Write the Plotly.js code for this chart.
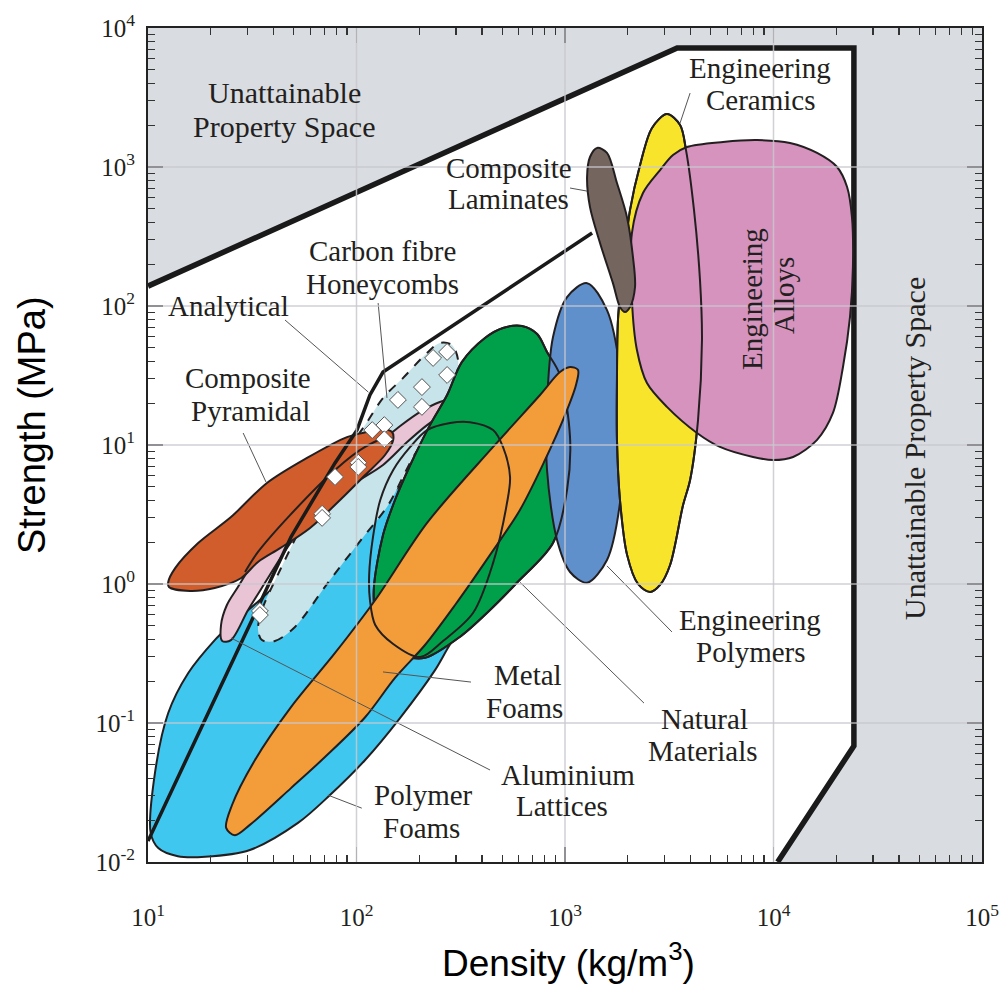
<!DOCTYPE html>
<html><head><meta charset="utf-8">
<script src="https://cdn.plot.ly/plotly-3.0.1.min.js"></script>
<style>html,body{margin:0;padding:0;background:#fff}#chart{width:1007px;height:988px}</style>
</head><body><div id="chart"></div>
<script>
// ---- axis ticks ----
const densityTicks = [10, 100, 1000, 10000, 100000];
const densityTickText = ['10<sup>1</sup>', '10<sup>2</sup>', '10<sup>3</sup>', '10<sup>4</sup>', '10<sup>5</sup>'];
const strengthTicks = [0.01, 0.1, 1, 10, 100, 1000, 10000];
const strengthTickText = ['10<sup>-2</sup>', '10<sup>-1</sup>', '10<sup>0</sup>', '10<sup>1</sup>', '10<sup>2</sup>', '10<sup>3</sup>', '10<sup>4</sup>'];

// ---- unattainable region boundary (density kg/m3, strength MPa) ----
const limitDensity = [10, 3450, 24300, 24300, 10470];
const limitStrength = [139, 7180, 7180, 0.0684, 0.01];
const greyDensity = [10, 3450, 24300, 24300, 10470, 100000, 100000, 10, 10];
const greyStrength = [139, 7180, 7180, 0.0684, 0.01, 0.01, 10000, 10000, 139];

// ---- analytical bound line ----
const analyticalDensity = [10, 48.5, 78.9, 100.5, 116, 134, 1349];
const analyticalStrength = [0.01416, 2.18, 7.43, 12.8, 22.9, 33.5, 335];

// ---- material envelopes ----
const polymerFoamDensity = [10.3, 11.2, 13.9, 18.8, 30.8, 52.4, 74.6, 110, 162, 238, 284, 370, 437, 447, 383, 281, 202, 130, 66.8, 34.4, 23.4, 20.9, 15.6, 12.5, 10.8, 10.3];
const polymerFoamStrength = [0.0162, 0.0126, 0.0110, 0.0109, 0.0122, 0.0191, 0.0303, 0.0542, 0.109, 0.240, 0.376, 0.629, 1.07, 2.45, 4.75, 6.61, 6.08, 4.02, 1.91, 0.767, 0.467, 0.395, 0.229, 0.118, 0.0437, 0.0162];

const latticeDensity = [22.7, 22.4, 23.9, 27.0, 32.6, 42.0, 59.9, 93.1, 130, 162, 202, 251, 339, 335, 272, 218, 175, 134, 100, 67.6, 50.7, 43.5, 36.4, 30.2, 25.0, 22.7];
const latticeStrength = [0.389, 0.507, 0.706, 0.951, 1.49, 2.37, 4.02, 7.18, 10.5, 13.7, 17.3, 20.4, 22.9, 20.7, 17.3, 13.9, 10.5, 7.18, 5.40, 3.41, 2.18, 1.56, 1.02, 0.650, 0.395, 0.389];

const pyramidalDensity = [12.6, 15.9, 20.9, 27.9, 33.7, 43.0, 59.9, 83.4, 110, 137, 150, 148, 134, 112, 90.0, 57.9, 37.2, 25.0, 17.4, 13.5, 12.5, 12.6];
const pyramidalStrength = [0.951, 0.891, 0.936, 1.10, 1.44, 1.81, 2.53, 4.02, 6.08, 8.47, 10.9, 12.4, 13.0, 12.4, 11.4, 8.07, 5.33, 3.03, 1.97, 1.30, 1.03, 0.951];
const pyramidalInnerDensity = [29.2, 33.7, 48.0, 78.9, 110, 145, 148];
const pyramidalInnerStrength = [1.22, 1.70, 3.13, 6.61, 9.68, 11.4, 10.5];

const honeycombDensity = [35.2, 40.6, 50.7, 72.9, 105, 142, 167, 187, 213, 251, 281, 300, 307, 287, 251, 213, 167, 134, 110, 83.4, 59.9, 43.0, 35.2, 33.7, 35.2];
const honeycombStrength = [0.395, 0.389, 0.491, 1.02, 2.07, 3.70, 5.89, 8.20, 10.9, 15.1, 21.1, 29.4, 40.9, 52.4, 54.2, 44.4, 30.3, 21.8, 13.9, 7.80, 3.41, 1.26, 0.650, 0.467, 0.395];

const naturalDensity = [121, 125, 142, 171, 213, 313, 437, 588, 876, 1023, 1057, 946, 820, 735, 622, 504, 413, 320, 272, 225, 181, 153, 134, 121];
const naturalStrength = [0.906, 0.533, 0.364, 0.303, 0.294, 0.416, 0.650, 1.02, 1.97, 4.75, 11.4, 31.9, 46.7, 62.9, 71.8, 69.5, 58.9, 39.5, 22.9, 13.9, 7.18, 4.02, 2.25, 0.906];

const naturalInnerDensity = [116, 123, 150, 202, 260, 362, 452, 527, 545, 504, 452, 350, 281, 218, 181, 150, 130, 120, 115, 116];
const naturalInnerStrength = [0.767, 0.507, 0.370, 0.298, 0.389, 0.618, 1.42, 3.83, 5.89, 9.68, 12.8, 14.6, 14.4, 12.8, 9.68, 6.61, 4.02, 2.18, 1.16, 0.767];

const metalFoamDensity = [23.7, 26.1, 30.8, 48.5, 70.6, 110, 153, 213, 297, 437, 608, 802, 1000, 1129, 1154, 1057, 946, 759, 452, 218, 123, 78.9, 48.5, 32.6, 25.3, 23.7];
const metalFoamStrength = [0.0176, 0.0156, 0.0185, 0.0340, 0.0569, 0.110, 0.211, 0.364, 0.706, 1.62, 3.41, 7.80, 16.4, 27.0, 34.7, 36.4, 33.5, 22.9, 9.68, 2.75, 0.767, 0.319, 0.130, 0.0542, 0.0257, 0.0176];

const polymerDensity = [1276, 1590, 1835, 1897, 1835, 1590, 1276, 1057, 916, 820, 820, 876, 1023, 1276];
const polymerStrength = [146, 93.5, 34.7, 11.4, 3.83, 1.49, 1.02, 1.22, 2.07, 6.61, 20.0, 59.8, 116, 146];

const ceramicDensity = [3083, 3565, 3805, 4156, 4440, 4539, 4345, 3981, 3684, 3192, 2858, 2559, 2240, 1985, 1835, 1775, 1775, 1795, 1897, 2051, 2291, 2614, 3083];
const ceramicStrength = [2404, 2005, 1324, 491, 154, 56.9, 15.1, 5.60, 3.70, 1.37, 0.984, 0.875, 1.00, 1.62, 4.02, 10.9, 29.4, 79.3, 191, 491, 1033, 1910, 2404];

const alloyDensity = [3846, 5728, 8340, 12000, 16180, 20180, 22540, 23780, 24040, 23280, 21540, 19280, 16180, 12420, 9954, 7980, 5535, 4295, 3083, 2472, 2213, 2094, 2094, 2366, 2858, 3296, 3846];
const alloyStrength = [1393, 1514, 1563, 1489, 1262, 1000, 718, 437, 191, 83.4, 36.4, 17.0, 10.9, 8.20, 7.80, 8.20, 9.68, 12.2, 18.8, 27.9, 48.2, 110, 335, 650, 951, 1219, 1393];

const laminateDensity = [1426, 1590, 1775, 1982, 2118, 2167, 2051, 1941, 1835, 1698, 1472, 1318, 1276, 1318, 1426];
const laminateStrength = [1371, 1262, 767, 437, 225, 137, 98.4, 90.6, 98.4, 146, 284, 515, 847, 1180, 1371];

// ---- honeycomb test points ----
const testDensity = [233, 272, 272, 206, 158, 206, 136, 119, 136, 102, 102, 78.9, 68.4, 68.4, 34.4, 34.4];
const testStrength = [42.3, 46.7, 31.9, 26.1, 21.1, 18.8, 13.9, 12.8, 11.0, 7.45, 6.95, 5.89, 3.2, 2.99, 0.64, 0.598];

// ---- leader lines (pairs, null separated) ----
const leaderDensity = [45.4, 114, null, 127, 140, null, 28.6, 36.8, null, 1057, 1276, null, 3981, 3565, null, 1590, 3258, null, 608, 2393, null, 134, 354, null, 25.0, 437, null, 72.9, 106];
const leaderStrength = [79.3, 24.0, null, 105, 21.8, null, 12.2, 5.42, null, 706, 671, null, 3404, 2075, null, 1.35, 0.452, null, 1.03, 0.139, null, 0.233, 0.197, null, 0.409, 0.0459, null, 0.0303, 0.0244];

// ---- labels ----
const labelTexts = ['Unattainable', 'Property Space', 'Engineering', 'Ceramics', 'Composite', 'Laminates', 'Carbon fibre', 'Honeycombs', 'Analytical', 'Composite', 'Pyramidal', 'Engineering', 'Polymers', 'Natural', 'Materials', 'Metal', 'Foams', 'Aluminium', 'Lattices', 'Polymer', 'Foams'];
const labelX = [284, 284, 760, 761, 509, 508, 382, 382, 228, 248, 250, 750, 751, 704, 703, 528, 524, 568, 562, 423, 421];
const labelY = [93, 126, 68, 100, 168, 199, 251, 284, 306, 378, 411, 620, 652, 719, 751, 675, 708, 775, 806, 795, 828];
const labelSize = [30, 30, 29, 29, 29, 29, 29, 29, 29, 29, 29, 29, 29, 29, 29, 29, 29, 29, 29, 29, 29];
const rotLabelTexts = ['Engineering', 'Alloys', 'Unattainable Property Space'];
const rotLabelX = [752, 784, 914];
const rotLabelY = [299, 296, 449];
const rotLabelSize = [29, 29, 30];

// ---- plotting ----
const OUT = '#231f20';
function region(d, s, fill, lw, dash) {
  return {x: d, y: s, type: 'scatter', mode: 'lines', fill: 'toself', fillcolor: fill,
    line: {color: OUT, width: lw === undefined ? 2 : lw, shape: 'spline', smoothing: 0.9, dash: dash || 'solid'},
    hoverinfo: 'skip'};
}
function outline(d, s, lw) {
  return {x: d, y: s, type: 'scatter', mode: 'lines',
    line: {color: OUT, width: lw || 2, shape: 'spline', smoothing: 0.9}, hoverinfo: 'skip'};
}

const traces = [
  {x: greyDensity, y: greyStrength, type: 'scatter', mode: 'lines', fill: 'toself', fillcolor: 'rgb(217,220,225)', line: {width: 0}, hoverinfo: 'skip'},
  {x: limitDensity, y: limitStrength, type: 'scatter', mode: 'lines', line: {color: '#1a1a1a', width: 5.5}, hoverinfo: 'skip'},
  region(polymerFoamDensity, polymerFoamStrength, 'rgb(64,199,240)'),
  region(honeycombDensity, honeycombStrength, 'rgb(199,228,234)', 2, 'dash'),
  region(latticeDensity, latticeStrength, 'rgb(232,196,212)'),
  region(pyramidalDensity, pyramidalStrength, 'rgb(208,93,43)'),
  outline(pyramidalInnerDensity, pyramidalInnerStrength),
  {x: analyticalDensity, y: analyticalStrength, type: 'scatter', mode: 'lines', line: {color: '#1a1a1a', width: 3.5}, hoverinfo: 'skip'},
  region(naturalDensity, naturalStrength, 'rgb(0,160,75)'),
  region(polymerDensity, polymerStrength, 'rgb(96,144,204)'),
  outline(naturalDensity, naturalStrength),
  region(metalFoamDensity, metalFoamStrength, 'rgb(243,157,58)'),
  outline(naturalInnerDensity, naturalInnerStrength),
  region(ceramicDensity, ceramicStrength, 'rgb(248,228,43)'),
  region(alloyDensity, alloyStrength, 'rgb(213,147,190)'),
  outline(ceramicDensity, ceramicStrength),
  region(laminateDensity, laminateStrength, 'rgb(117,101,95)'),
  {x: leaderDensity, y: leaderStrength, type: 'scatter', mode: 'lines', connectgaps: false, line: {color: '#555', width: 1}, hoverinfo: 'skip'},
  {x: testDensity, y: testStrength, type: 'scatter', mode: 'markers', marker: {symbol: 'diamond', size: 13, color: '#fff', line: {color: '#555', width: 1}}, hoverinfo: 'skip'}
];

// plot area in pixels
const L = 148, T = 28, W = 834, H = 834;
const px = v => (v - L) / W;
const py = v => (T + H - v) / H;

const annotations = [];
const serifFamily = 'Liberation Serif, Times New Roman, serif';
labelTexts.forEach((t, i) => annotations.push({text: t, xref: 'paper', yref: 'paper', x: px(labelX[i]), y: py(labelY[i]), xanchor: 'center', yanchor: 'middle', showarrow: false, font: {family: serifFamily, size: labelSize[i], color: '#231f20'}}));
rotLabelTexts.forEach((t, i) => annotations.push({text: t, xref: 'paper', yref: 'paper', x: px(rotLabelX[i]), y: py(rotLabelY[i]), xanchor: 'center', yanchor: 'middle', textangle: -90, showarrow: false, font: {family: serifFamily, size: rotLabelSize[i], color: '#231f20'}}));
annotations.push({text: 'Strength (MPa)', xref: 'paper', yref: 'paper', x: px(32), y: py(425), textangle: -90, xanchor: 'center', yanchor: 'middle', showarrow: false, font: {family: 'Liberation Sans, Arial, sans-serif', size: 38, color: '#000'}});
annotations.push({text: 'Density (kg/m<sup>3</sup>)', xref: 'paper', yref: 'paper', x: px(568), y: py(961), xanchor: 'center', yanchor: 'middle', showarrow: false, font: {family: 'Liberation Sans, Arial, sans-serif', size: 37, color: '#000'}});

// grid lines drawn above the envelopes (paper coordinates of each decade)
const shapes = [];
for (let k = 1; k < densityTicks.length - 1; k++) {
  shapes.push({type: 'line', xref: 'paper', yref: 'paper', x0: k / 4, x1: k / 4, y0: 0, y1: 1, layer: 'above', line: {color: 'rgba(200,200,206,0.85)', width: 1.5}});
}
for (let k = 1; k < strengthTicks.length - 1; k++) {
  shapes.push({type: 'line', xref: 'paper', yref: 'paper', x0: 0, x1: 1, y0: k / 6, y1: k / 6, layer: 'above', line: {color: 'rgba(200,200,206,0.85)', width: 1.5}});
}

const minorX = [], minorY = [];
for (let e = 1; e < 5; e++) for (let m = 2; m < 10; m++) minorX.push(m * Math.pow(10, e));
for (let e = -2; e < 4; e++) for (let m = 2; m < 10; m++) minorY.push(m * Math.pow(10, e));

const tickFont = {family: 'Liberation Serif, Times New Roman, serif', size: 25, color: '#231f20'};
const layout = {
  width: 1007, height: 988,
  margin: {l: L, r: 1007 - L - W, t: T, b: 988 - T - H, pad: 0},
  paper_bgcolor: '#fff', plot_bgcolor: '#fff',
  showlegend: false, hovermode: false,
  xaxis: {type: 'log', range: [1, 5], tickmode: 'array', tickvals: densityTicks, ticktext: densityTickText,
    ticks: 'inside', ticklen: 15, tickwidth: 1.2, tickcolor: '#333', showgrid: false, zeroline: false,
    showline: true, linecolor: '#222', linewidth: 2, mirror: 'allticks', layer: 'above traces',
    tickfont: tickFont, ticklabelstandoff: 32,
    minor: {tickmode: 'array', tickvals: minorX, ticks: 'inside', ticklen: 7, tickwidth: 1.2, tickcolor: '#333', showgrid: false}},
  yaxis: {type: 'log', range: [-2, 4], tickmode: 'array', tickvals: strengthTicks, ticktext: strengthTickText,
    ticks: 'inside', ticklen: 15, tickwidth: 1.2, tickcolor: '#333', showgrid: false, zeroline: false,
    showline: true, linecolor: '#222', linewidth: 2, mirror: 'allticks', layer: 'above traces',
    tickfont: tickFont, ticklabelstandoff: 6,
    minor: {tickmode: 'array', tickvals: minorY, ticks: 'inside', ticklen: 7, tickwidth: 1.2, tickcolor: '#333', showgrid: false}},
  annotations: annotations,
  shapes: shapes
};
Plotly.newPlot('chart', traces, layout, {staticPlot: true, displayModeBar: false});
</script></body></html>
